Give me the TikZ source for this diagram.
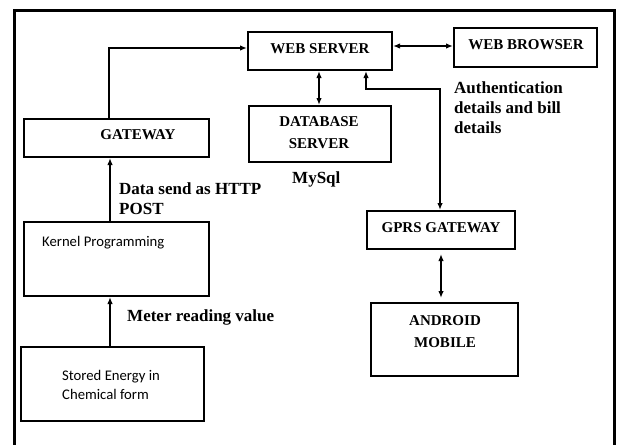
\documentclass[tikz,border=0pt]{standalone}
\usepackage{fontspec}
\setmainfont{Liberation Serif}
\newfontfamily\calib{Carlito}
\usetikzlibrary{arrows.meta}
\tikzset{
  box/.style={draw, line width=2pt, inner sep=0pt},
  boxlabel/.style={font=\bfseries\fontsize{15}{18}\selectfont, inner sep=0pt, align=center},
  lbl/.style={font=\bfseries\fontsize{17}{20}\selectfont, inner sep=0pt, anchor=west, align=left},
  sans/.style={font=\calib\fontsize{14.7}{18}\selectfont, inner sep=0pt, anchor=west, align=left},
  conn/.style={line width=1.4pt, -{Latex[length=7pt,width=5.5pt]}},
  bconn/.style={line width=1.4pt, {Latex[length=7pt,width=5.5pt]}-{Latex[length=7pt,width=5.5pt]}},
}
\begin{document}
\begin{tikzpicture}[x=1pt,y=-1pt]
\useasboundingbox (0,0) rectangle (617,444);
% outer frame
\draw[line width=3pt] (14,450) -- (14,11) -- (614,11) -- (614,450);
% boxes
\node (ws) at (320,51) [box, minimum width=144pt, minimum height=38pt] {};
\node[boxlabel] at (320,49) {WEB SERVER};
\node (wb) at (525.5,47.5) [box, minimum width=143pt, minimum height=39pt] {};
\node[boxlabel] at (526,45) {WEB BROWSER};
\node (gw) at (116.5,138) [box, minimum width=185pt, minimum height=38pt] {};
\node[boxlabel] at (138,135) {GATEWAY};
\node (db) at (320,134) [box, minimum width=142pt, minimum height=56pt] {};
\node[boxlabel] at (319,133) {DATABASE\\[4pt]SERVER};
\node (kp) at (116.5,259) [box, minimum width=185pt, minimum height=74pt] {};
\node[sans] at (42,243) {Kernel Programming};
\node (se) at (112.5,384) [box, minimum width=183pt, minimum height=74pt] {};
\node[sans, font=\calib\fontsize{14.7}{18.5}\selectfont] at (62,385) {Stored Energy in\\Chemical form};
\node (gp) at (441,230) [box, minimum width=148pt, minimum height=38pt] {};
\node[boxlabel] at (441,228) {GPRS GATEWAY};
\node (am) at (444.5,339.5) [box, minimum width=147pt, minimum height=73pt] {};
\node[boxlabel] at (445,332) {ANDROID\\[4pt]MOBILE};
% labels
\node[lbl] (auth) at (454,108) {Authentication\\details and bill\\details};
\node[lbl] (http) at (119,199) {Data send as HTTP\\POST};
\node[lbl] (mysql) at (292,179) {MySql};
\node[lbl] (meter) at (127,317) {Meter reading value};
% connectors
\draw[conn] (gw.north -| 109,0) -- (109,48) -- (ws.west |- 0,48);
\draw[conn] (kp.north -| 110,0) -- (gw.south -| 110,0);
\draw[conn] (se.north -| 110,0) -- (kp.south -| 110,0);
\draw[bconn] (ws.east |- 0,46) -- (wb.west |- 0,46);
\draw[bconn] (ws.south -| 319,0) -- (db.north -| 319,0);
\draw[bconn] (ws.south -| 366,0) -- (366,89) -- (440,89) -- (gp.north -| 440,0);
\draw[bconn] ([yshift=-4pt]gp.south -| 441,0) -- ([yshift=4pt]am.north -| 441,0);
\end{tikzpicture}
\end{document}
